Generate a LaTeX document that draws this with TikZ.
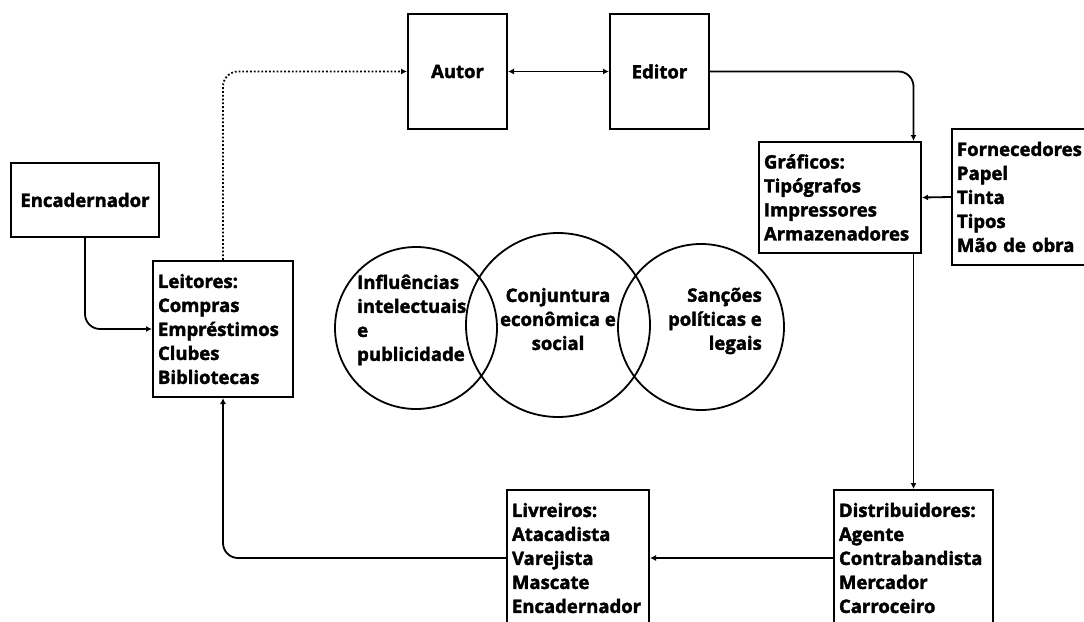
\documentclass[tikz,border=0pt]{standalone}
\usepackage{fontspec}
\setmainfont{Open Sans}[BoldFeatures={FakeBold=2}]
\usetikzlibrary{arrows.meta}
\tikzstyle{caixa}=[rectangle, draw, line width=2pt, inner xsep=5pt, inner ysep=0pt, align=left, font=\bfseries\fontsize{18.5}{24}\selectfont]
\tikzstyle{circulo}=[circle, draw, line width=1.8pt, inner sep=0pt]
\tikzstyle{rotulo}=[inner sep=0pt, font=\bfseries\fontsize{18.5}{24}\selectfont]
\tikzstyle{seta}=[line width=1.8pt, -{Latex[length=6pt,width=6pt]}]
\newcommand{\caixa}{\node[caixa]}

\begin{document}
\begin{tikzpicture}[x=1pt, y=-1pt]
\useasboundingbox (0,0) rectangle (1084,621);
\caixa[text width=138pt, minimum height=74pt, align=center] (enc) at (85,200) {Encadernador};
\caixa[text width=130pt, minimum height=136pt] (leit) at (223,329) {Leitores:\\Compras\\Empréstimos\\Clubes\\Bibliotecas};
\caixa[text width=89pt, minimum height=115pt, align=center] (autor) at (457.5,71.5) {Autor};
\caixa[text width=89pt, minimum height=115pt, align=center] (editor) at (659.5,71.5) {Editor};
\caixa[text width=152pt, minimum height=111pt] (graf) at (840,197.5) {Gráficos:\\Tipógrafos\\Impressores\\Armazenadores};
\caixa[text width=150pt, minimum height=136pt] (forn) at (1032,197) {Fornecedores\\Papel\\Tinta\\Tipos\\Mão de obra};
\caixa[text width=132pt, minimum height=136pt] (livr) at (578,558) {Livreiros:\\Atacadista\\Varejista\\Mascate\\Encadernador};
\caixa[text width=149pt, minimum height=136pt] (distr) at (913.5,558) {Distribuidores:\\Agente\\Contrabandista\\Mercador\\Carroceiro};

% conjunturas
\node[circulo, minimum size=162pt] (c1) at (416,328) {};
\node[circulo, minimum size=184pt] (c2) at (558,325) {};
\node[circulo, minimum size=166pt] (c3) at (701,327) {};
\node[rotulo, align=left, anchor=west] (t1) at (357,320) {Influências\\intelectuais\\e\\publicidade};
\node[rotulo, align=center] (t2) at (558,319) {Conjuntura\\econômica e\\social};
\node[rotulo, align=right, anchor=east] (t3) at (762,321) {Sanções\\políticas e\\legais};

% fluxo
\draw[seta, rounded corners=15pt] (enc.south) |- (leit.west);
\draw[seta, dotted, rounded corners=15pt] (leit.north) |- (autor.west);
\draw[line width=1.8pt, {Latex[length=6pt,width=6pt]}-{Latex[length=6pt,width=6pt]}] (autor) -- (editor);
\draw[seta, rounded corners=15pt] (editor.east) -| (graf.north -| distr.north);
\draw[seta] (forn.west) -- (graf.east);
\draw[seta] (graf.south -| distr.north) -- (distr.north);
\draw[seta] (distr.west) -- (livr.east);
\draw[seta, rounded corners=15pt] (livr.west) -| (leit.south);
\end{tikzpicture}
\end{document}
